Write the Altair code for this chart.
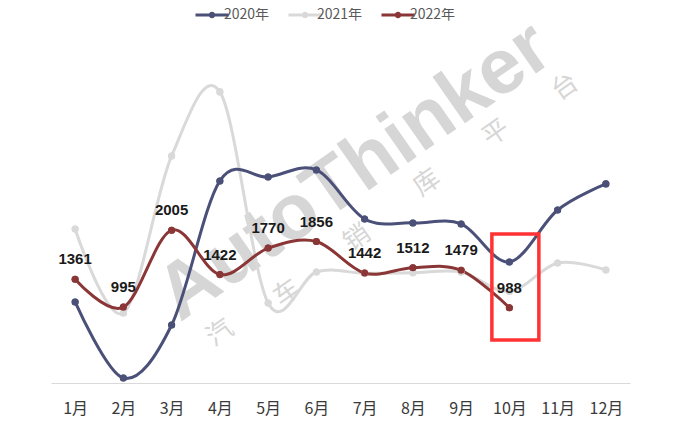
import altair as alt
import pandas as pd

months = ["1月", "2月", "3月", "4月", "5月", "6月", "7月", "8月", "9月", "10月", "11月", "12月"]
series_names = ["2020年", "2021年", "2022年"]
v2020 = [1063, 65, 761, 2651, 2703, 2795, 2152, 2100, 2087, 1588, 2270, 2612]
v2021 = [2021, 919, 2979, 3819, 1050, 1457, 1440, 1445, 1455, 1200, 1575, 1483]
v2022 = [1361, 995, 2005, 1422, 1770, 1856, 1442, 1512, 1479, 988]
colors = ["#4b5078", "#d9d9d9", "#8b3636"]

highlight_month = "10月"
highlight_top = 1955
highlight_bottom = 564

rows = []
for name, vals in [("2021年", v2021), ("2020年", v2020), ("2022年", v2022)]:
    for m, v in zip(months, vals):
        rows.append({"month": m, "series": name, "value": v})
df = pd.DataFrame(rows)

xenc = alt.X("month:N", sort=months, scale=alt.Scale(type="point", padding=0.5),
             axis=alt.Axis(title=None, ticks=False, labelPadding=17, labelFontSize=16,
                           labelColor="#3a3a3a", labelFont="Noto Sans CJK SC",
                           domainColor="#d9d9d9", labelAngle=0, grid=False))
yscale = alt.Scale(domain=[0, 4500], nice=False, zero=True)
yenc = alt.Y("value:Q", scale=yscale, axis=None)
color_scale = alt.Scale(domain=series_names, range=colors)

sym = "M-1.5,-0.13H1.5V0.13H-1.5Z M0.3,0A0.3,0.3 0 1,1 -0.3,0A0.3,0.3 0 1,1 0.3,0Z"

base = alt.Chart(df)

legend_points = base.mark_point(filled=True, size=50, opacity=1).encode(
    x=xenc, y=yenc,
    color=alt.Color("series:N", scale=color_scale,
                    legend=alt.Legend(title=None, orient="none", direction="horizontal",
                                      legendX=150, legendY=-36, symbolType=sym,
                                      symbolSize=484, symbolStrokeWidth=0, symbolOpacity=1,
                                      labelFontSize=14, labelColor="#595959",
                                      labelFont="Noto Sans CJK SC", labelOffset=1,
                                      columnPadding=18)),
)
lines = base.mark_line(interpolate="cardinal", strokeWidth=3).encode(
    x=xenc, y=yenc,
    color=alt.Color("series:N", scale=color_scale, legend=None),
    detail="series:N",
)
points = base.mark_point(filled=True, size=50, opacity=1).encode(
    x=xenc, y=yenc,
    color=alt.Color("series:N", scale=color_scale, legend=None),
)

labels = base.transform_filter(alt.datum.series == "2022年").mark_text(
    dy=-20, fontSize=15, fontWeight="bold", font="Liberation Sans", color="#1a1a1a"
).encode(x=xenc, y=yenc, text="value:Q")

box_df = pd.DataFrame([{"month": highlight_month, "top": highlight_top, "bottom": highlight_bottom}])
box = alt.Chart(box_df).mark_rect(width=47, xOffset=6, fillOpacity=0, stroke="#ff3333",
                                  strokeWidth=3.5).encode(
    x=alt.X("month:N", sort=months, scale=alt.Scale(type="point", padding=0.5)),
    y=alt.Y("top:Q", scale=yscale),
    y2="bottom:Q",
)

wm = alt.Chart(box_df).mark_text(angle=325, fontSize=78, fontWeight="bold",
                                  font="Liberation Sans", color="#d6d6d6").encode(
    x=alt.value(304), y=alt.value(132), text=alt.value("AutoThinker"))

wm_chars = ["汽", "车", "销", "库", "平", "台"]
wm_pos = [(169, 293), (236, 253), (306, 198), (376, 143), (445, 93), (514, 47)]
wm_layers = []
for ch, (px, py) in zip(wm_chars, wm_pos):
    wm_layers.append(alt.Chart(box_df).mark_text(angle=325, fontSize=26, font="Noto Sans CJK SC",
                                                 color="#d6d6d6").encode(
        x=alt.value(px), y=alt.value(py), text=alt.value(ch)))

chart = alt.layer(wm, *wm_layers, legend_points, lines, points, labels, box).properties(
    width=579, height=343,
    autosize=alt.AutoSizeParams(type="none"),
    padding={"left": 43, "top": 32, "right": 62, "bottom": 45},
).configure_view(stroke=None)

chart.save("out.html", embed_options={"renderer": "svg", "actions": False})
